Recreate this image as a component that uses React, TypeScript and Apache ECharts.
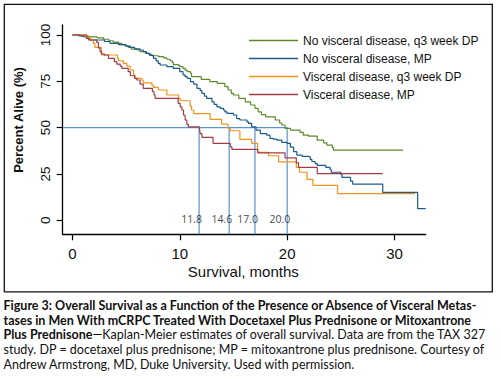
import React, { useEffect, useRef } from "react";
import * as echarts from "echarts";

// ---- Data ----
const seriesNames = [
  "No visceral disease, q3 week DP",
  "No visceral disease, MP",
  "Visceral disease, q3 week DP",
  "Visceral disease, MP",
];

// Kaplan-Meier steps: [month at which the curve drops, new % alive]
const noViscDP: number[][] = [
  [0, 100], [0.8, 99.5], [1.5, 99], [2.3, 98.5], [2.9, 97.7], [3.4, 96.9], [3.8, 96.2], [4.3, 95.5],
  [4.6, 94.8], [4.9, 94.1], [5.2, 93.3], [5.5, 92.4], [6.0, 91.9], [6.3, 91], [6.8, 90.1], [7.1, 89.6],
  [7.4, 88.8], [8.0, 88.3], [8.5, 87.6], [8.8, 86.9], [9.1, 86.1], [9.3, 85.2], [9.4, 84], [9.9, 83.6],
  [10.0, 82.9], [10.3, 82], [10.5, 81], [10.7, 80.2], [11.0, 79.3], [11.1, 77.5], [12.0, 76], [12.8, 74.8],
  [13.5, 73.9], [14.2, 72.1], [14.5, 70.3], [14.8, 68.5], [15.0, 67.6], [15.5, 65.8], [16.1, 63.9],
  [16.6, 62.2], [17.0, 60.4], [17.3, 58.5], [17.6, 57], [18.0, 55.8], [18.9, 54.1], [19.3, 52.5],
  [19.5, 51.4], [19.8, 49.6], [20.3, 48.6], [21.2, 47.4], [21.5, 45.9], [22.0, 45.4], [22.8, 43.2],
  [23.4, 41.8], [23.7, 40.5], [24.2, 39.3], [24.3, 37.8], [30.8, 37.8],
];

const noViscMP: number[][] = [
  [0, 100], [0.6, 99.5], [1.0, 99.1], [1.3, 98.2], [1.65, 97.3], [3.0, 96.5], [3.5, 95.5], [4.3, 94.8],
  [5.0, 94], [5.4, 93.3], [5.8, 92.5], [6.3, 91.9], [6.6, 91], [6.9, 90.1], [7.2, 89], [7.55, 87.4],
  [7.8, 86], [8.0, 84.7], [8.17, 83.8], [8.8, 82.9], [9.4, 82], [10.0, 80.2], [10.3, 78.5], [10.5, 77.5],
  [10.7, 76.6], [11.0, 74.8], [11.3, 73.5], [11.6, 71.2], [11.9, 70], [12.06, 68.5], [12.3, 67],
  [12.5, 65.8], [13.0, 63.9], [13.2, 62.5], [13.46, 61.2], [13.76, 60.4], [14.07, 59.5], [14.2, 58.5],
  [14.4, 57.7], [15.0, 56.8], [15.3, 54.8], [15.6, 54.1], [16.25, 53.1], [16.4, 52.3], [16.7, 50.4],
  [17.1, 48.6], [17.5, 46.8], [18.1, 45.9], [18.4, 44.2], [18.7, 43.8], [19.05, 43.2], [19.5, 42],
  [20.0, 41.5], [20.3, 39.5], [20.6, 37], [20.9, 35.1], [21.4, 34.5], [22.0, 34.2], [22.15, 32.8],
  [22.3, 31.7], [22.6, 30.6], [22.8, 29.6], [23.6, 28.5], [24.0, 27.4], [24.1, 25.9], [25.0, 24.9],
  [25.1, 23.1], [25.9, 21.1], [26.1, 19.5], [28.9, 15], [32.15, 6.3], [32.9, 6.3],
];

const viscDP: number[][] = [
  [0, 100], [1.2, 98.8], [1.65, 97.3], [1.96, 95.5], [2.1, 93.3], [2.68, 90.1], [2.74, 89.2], [4.2, 87.4],
  [4.3, 86.1], [4.75, 84.7], [5.07, 83.2], [5.38, 81.1], [5.7, 78.4], [5.84, 76.6], [6.47, 75.7],
  [6.6, 74.2], [7.4, 73], [7.55, 71.7], [8.0, 70.3], [8.8, 67.6], [9.88, 65.8], [10.04, 64.5],
  [10.97, 61.6], [11.1, 59.5], [11.3, 57.5], [12.83, 54.4], [13.9, 51.9], [14.5, 49.6], [14.7, 48.3],
  [15.6, 43.6], [16.7, 41.5], [17.25, 38.7], [17.3, 36.6], [18.27, 34.8], [19.2, 31.5], [20.85, 28.5],
  [21.15, 25.9], [21.85, 22], [22.4, 18.8], [24.7, 14.4], [31.9, 14.4],
];

const viscMP: number[][] = [
  [0, 100], [1.34, 98.2], [1.5, 97.3], [2.27, 96], [2.42, 93], [2.58, 91], [2.74, 89.7], [2.98, 89.2],
  [3.36, 87.4], [3.92, 85.6], [4.14, 84.3], [4.45, 83.2], [4.6, 82], [5.2, 80.2], [5.4, 78], [5.8, 76.6],
  [6.0, 75.7], [6.3, 73.5], [6.6, 71.2], [7.45, 69.5], [7.6, 67.6], [7.7, 65.8], [9.85, 63.1],
  [10.04, 61.2], [10.2, 59.5], [10.35, 56.8], [10.5, 54.1], [10.66, 51.8], [10.8, 50.4], [11.84, 49],
  [11.9, 46.8], [12.06, 44.7], [13.1, 41.5], [14.7, 39.6], [14.86, 38.2], [17.25, 36.4], [19.8, 33.7],
  [20.85, 31], [21.06, 28.5], [22.8, 25.2], [28.9, 25.2],
];

const medians = [11.8, 14.6, 17.0, 20.0];
const medianLevel = 50;
const xTicks = [0, 10, 20, 30];
const yTicks = [0, 25, 50, 75, 100];

const captionLines = [
  { bold: "Figure 3: Overall Survival as a Function of the Presence or Absence of Visceral Metas-", regular: "" },
  { bold: "tases in Men With mCRPC Treated With Docetaxel Plus Prednisone or Mitoxantrone", regular: "" },
  { bold: "Plus Prednisone", regular: "\u2014Kaplan-Meier estimates of overall survival. Data are from the TAX 327" },
  { bold: "", regular: "study. DP = docetaxel plus prednisone; MP = mitoxantrone plus prednisone. Courtesy of" },
  { bold: "", regular: "Andrew Armstrong, MD, Duke University. Used with permission." },
];

const colors = ["#5f8a2c", "#1d5a8c", "#f0931f", "#a03c47"];
const medianColor = "#5b92cf";

const CAP_FONT = "Lato";
const AX_FONT = "'Liberation Sans', Arial, sans-serif";

function measure(ctx: CanvasRenderingContext2D, text: string, weight: string, size: number) {
  if (!text) return 0;
  ctx.font = `${weight} ${size}px ${CAP_FONT}`;
  return ctx.measureText(text).width;
}

export default function App() {
  const ref = useRef<HTMLDivElement>(null);
  useEffect(() => {
    if (!ref.current) return;
    const chart = echarts.init(ref.current, undefined, { renderer: "svg" });

    const ctx = document.createElement("canvas").getContext("2d") as CanvasRenderingContext2D;
    const base = 11.5;
    const target = 491.5;
    const sizes = captionLines.map((l) => {
      const w = measure(ctx, l.bold, "bold", base) + measure(ctx, l.regular, "normal", base);
      return Math.max(9.5, Math.min(12.5, (base * target) / w));
    });
    sizes[4] = (sizes[3] + sizes[2]) / 2;
    const capY = [305.5, 320, 334.8, 349.6, 364.2];
    const captionGraphics = captionLines.map((l, i) => {
      const fs = sizes[i];
      const txt = (l.bold ? `{b|${l.bold}}` : "") + (l.regular ? `{r|${l.regular}}` : "");
      return {
        type: "text",
        x: 3.5,
        y: capY[i],
        style: {
          text: txt,
          verticalAlign: "middle",
          align: "left",
          rich: {
            b: { fontFamily: CAP_FONT, fontWeight: "bold", fontSize: fs, fill: "#111" },
            r: { fontFamily: CAP_FONT, fontWeight: "normal", fontSize: fs, fill: "#111" },
          },
        },
      };
    });

    const curves = [noViscDP, noViscMP, viscDP, viscMP];

    const series: any[] = [];
    // median guide lines (drawn beneath curves)
    series.push({
      type: "line",
      name: "median50",
      data: [[-0.9, medianLevel], [medians[medians.length - 1], medianLevel]],
      symbol: "none",
      lineStyle: { color: medianColor, width: 1.2 },
      z: 1,
      silent: true,
    });
    medians.forEach((m) => {
      series.push({
        type: "line",
        name: "median" + m,
        data: [[m, medianLevel], [m, -7.6]],
        symbol: "none",
        lineStyle: { color: medianColor, width: 1.2 },
        z: 1,
        silent: true,
      });
    });
    series.push({
      type: "scatter",
      name: "medianLabels",
      data: medians.map((m) => [m, 0]),
      symbolSize: 0,
      silent: true,
      label: {
        show: true,
        position: "inside",
        align: "right",
        offset: [3, -1],
        formatter: (p: any) => p.value[0].toFixed(1),
        fontFamily: "'Open Sans', sans-serif",
        fontSize: 10.5,
        color: "#111",
      },
      z: 3,
    });
    curves.forEach((d, i) => {
      series.push({
        type: "line",
        name: seriesNames[i],
        data: d,
        step: "end",
        symbol: "none",
        lineStyle: { color: colors[i], width: 1.2 },
        itemStyle: { color: colors[i] },
        z: 2,
      });
    });

    chart.setOption({
      animation: false,
      backgroundColor: "#fff",
      grid: { left: 62.7, right: 75.3, top: 25, bottom: 144.7, containLabel: false },
      legend: {
        data: seriesNames,
        orient: "vertical",
        left: 249,
        top: 33.5,
        padding: 0,
        icon: "rect",
        itemWidth: 49,
        itemHeight: 1.3,
        itemGap: 4,
        selectedMode: false,
        textStyle: { fontFamily: AX_FONT, fontSize: 12, color: "#111", lineHeight: 14 },
      },
      xAxis: {
        type: "value",
        min: -0.9,
        max: 32.9,
        splitLine: { show: false },
        axisLine: { onZero: false, lineStyle: { color: "#000", width: 1.3 } },
        axisTick: { show: true, length: 6, customValues: xTicks, lineStyle: { color: "#000", width: 1.2 } },
        axisLabel: { customValues: xTicks, margin: 12, fontFamily: AX_FONT, fontSize: 15, color: "#111" },
      },
      yAxis: {
        type: "value",
        min: -7.6,
        max: 105.4,
        splitLine: { show: false },
        axisLine: { onZero: false, lineStyle: { color: "#000", width: 1.3 } },
        axisTick: { show: true, length: 6, customValues: yTicks, lineStyle: { color: "#000", width: 1.2 } },
        axisLabel: { customValues: yTicks, rotate: 90, margin: 10, fontFamily: AX_FONT, fontSize: 13.5, color: "#111" },
      },
      graphic: [
        {
          type: "rect",
          shape: { x: 4.3, y: 4.3, width: 488, height: 287.5 },
          style: { fill: "none", stroke: "#111", lineWidth: 1.3 },
          silent: true,
        },
        {
          type: "text",
          x: 18,
          y: 120,
          rotation: Math.PI / 2,
          style: {
            text: "Percent Alive (%)",
            fontFamily: AX_FONT,
            fontWeight: "bold",
            fontSize: 13,
            fill: "#111",
            align: "center",
            verticalAlign: "middle",
          },
        },
        {
          type: "text",
          x: 243.3,
          y: 271,
          style: {
            text: "Survival, months",
            fontFamily: AX_FONT,
            fontSize: 15,
            fill: "#111",
            align: "center",
            verticalAlign: "middle",
          },
        },
        ...captionGraphics,
      ],
      series,
    });
    return () => chart.dispose();
  }, []);
  return (
    <div
      ref={ref}
      style={{ position: "fixed", left: 0, top: 0, width: 501, height: 379, background: "#fff" }}
    />
  );
}
